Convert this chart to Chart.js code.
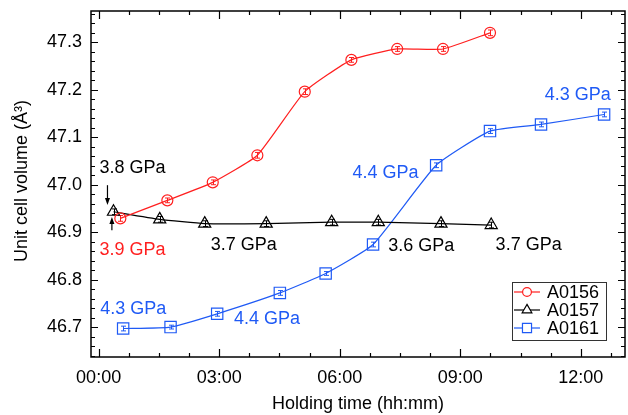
<!DOCTYPE html>
<html>
<head>
<meta charset="utf-8">
<script src="https://cdn.jsdelivr.net/npm/chart.js@4.4.0/dist/chart.umd.min.js"></script>
<style>
  html, body { margin: 0; padding: 0; background: #fff; }
  #wrap { width: 628px; height: 415px; }
</style>
</head>
<body>
<div id="wrap"><canvas id="volChart" width="628" height="415"></canvas></div>
<script>
// holding time in hours, volume in Å^3, error = half height of error bar
const timeA0156 = [0.54, 1.71, 2.84, 3.95, 5.13, 6.29, 7.43, 8.57, 9.74];
const volA0156  = [46.929, 46.967, 47.005, 47.062, 47.196, 47.263, 47.286, 47.286, 47.320];
const errA0156  = [0.006, 0.005, 0.005, 0.006, 0.006, 0.005, 0.005, 0.005, 0.006];

const timeA0157 = [0.37, 1.52, 2.64, 4.17, 5.80, 6.96, 8.52, 9.77];
const volA0157  = [46.943, 46.927, 46.918, 46.918, 46.921, 46.921, 46.918, 46.915];
const errA0157  = [0.006, 0.006, 0.006, 0.006, 0.006, 0.006, 0.006, 0.006];

const timeA0161 = [0.61, 1.79, 2.95, 4.51, 5.65, 6.83, 8.40, 9.74, 11.01, 12.58];
const volA0161  = [46.697, 46.700, 46.728, 46.772, 46.813, 46.874, 47.041, 47.113, 47.127, 47.148];
const errA0161  = [0.005, 0.004, 0.005, 0.005, 0.004, 0.005, 0.005, 0.005, 0.005, 0.005];

const xTickHours = [0, 3, 6, 9, 12];
const yTickValues = [46.7, 46.8, 46.9, 47.0, 47.1, 47.2, 47.3];

// pressure labels: [text, hours, volume, color key]
const pressureLabels = [
  ['3.8 GPa', 0.02, 47.035, 'k'],
  ['3.9 GPa', 0.02, 46.862, 'r'],
  ['3.7 GPa', 2.79, 46.872, 'k'],
  ['3.6 GPa', 7.21, 46.871, 'k'],
  ['3.7 GPa', 9.88, 46.872, 'k'],
  ['4.3 GPa', 0.04, 46.739, 'b'],
  ['4.4 GPa', 3.37, 46.716, 'b'],
  ['4.4 GPa', 6.32, 47.025, 'b'],
  ['4.3 GPa', 11.10, 47.190, 'b']
];
// arrows: [hours, from volume, to volume]
const arrows = [
  [0.22, 46.999, 46.957],
  [0.33, 46.904, 46.932]
];

const colors = { r: '#ff1f1f', k: '#000000', b: '#1f5af5' };
const FONT = '"Liberation Sans", Arial, Helvetica, sans-serif';

function toPoints(ts, vs) {
  return ts.map((t, i) => ({ x: t, y: vs[i] }));
}

function hhmm(h) {
  const hh = Math.floor(h + 1e-6);
  return String(hh).padStart(2, '0') + ':00';
}

const seriesErrors = [errA0156, errA0157, errA0161];

const decorPlugin = {
  id: 'decor',
  beforeDatasetsDraw(chart) {
    const ctx = chart.ctx;
    const xs = chart.scales.x, ys = chart.scales.y;
    ctx.save();
    chart.data.datasets.forEach((ds, i) => {
      ctx.strokeStyle = ds.borderColor;
      ctx.lineWidth = 1;
      ds.data.forEach((p, j) => {
        const e = seriesErrors[i][j];
        const px = Math.round(xs.getPixelForValue(p.x)) + 0.5;
        const y1 = ys.getPixelForValue(p.y + e);
        const y2 = ys.getPixelForValue(p.y - e);
        ctx.beginPath();
        ctx.moveTo(px, y1); ctx.lineTo(px, y2);
        ctx.moveTo(px - 2.5, y1); ctx.lineTo(px + 2.5, y1);
        ctx.moveTo(px - 2.5, y2); ctx.lineTo(px + 2.5, y2);
        ctx.stroke();
      });
    });
    ctx.restore();
  },
  afterDraw(chart) {
    const ctx = chart.ctx;
    const a = chart.chartArea;
    const xs = chart.scales.x, ys = chart.scales.y;
    ctx.save();

    // frame
    ctx.strokeStyle = '#000';
    ctx.lineWidth = 1.5;
    ctx.strokeRect(a.left, a.top, a.right - a.left, a.bottom - a.top);

    // inward ticks on all four sides
    ctx.lineWidth = 1.2;
    ctx.beginPath();
    for (let k = 0; k * 0.75 <= xs.max; k++) {
      const px = Math.round(xs.getPixelForValue(k * 0.75)) + 0.5;
      const len = k % 4 === 0 ? 8 : 4;
      ctx.moveTo(px, a.bottom); ctx.lineTo(px, a.bottom - len);
      ctx.moveTo(px, a.top); ctx.lineTo(px, a.top + len);
    }
    for (let k = Math.ceil(ys.min / 0.02); k * 0.02 <= ys.max; k++) {
      const py = Math.round(ys.getPixelForValue(k * 0.02)) + 0.5;
      const len = k % 5 === 0 ? 7 : 4;
      ctx.moveTo(a.left, py); ctx.lineTo(a.left + len, py);
      ctx.moveTo(a.right, py); ctx.lineTo(a.right - len, py);
    }
    ctx.stroke();

    // pressure labels
    ctx.font = '18px ' + FONT;
    ctx.textBaseline = 'middle';
    ctx.textAlign = 'left';
    pressureLabels.forEach(([txt, t, v, c]) => {
      ctx.fillStyle = colors[c];
      ctx.fillText(txt, xs.getPixelForValue(t), ys.getPixelForValue(v));
    });

    // arrows
    ctx.strokeStyle = '#000';
    ctx.fillStyle = '#000';
    ctx.lineWidth = 1.2;
    arrows.forEach(([t, v0, v1]) => {
      const px = xs.getPixelForValue(t);
      const y0 = ys.getPixelForValue(v0), y1 = ys.getPixelForValue(v1);
      const dir = Math.sign(y1 - y0);
      ctx.beginPath();
      ctx.moveTo(px, y0); ctx.lineTo(px, y1 - dir * 5);
      ctx.stroke();
      ctx.beginPath();
      ctx.moveTo(px, y1);
      ctx.lineTo(px - 2.5, y1 - dir * 7);
      ctx.lineTo(px + 2.5, y1 - dir * 7);
      ctx.closePath();
      ctx.fill();
    });

    // axis titles
    ctx.fillStyle = '#000';
    ctx.font = '18px ' + FONT;
    ctx.textAlign = 'center';
    ctx.fillText('Holding time (hh:mm)', 358, 404);
    ctx.save();
    ctx.translate(22, 181);
    ctx.rotate(-Math.PI / 2);
    ctx.fillText('Unit cell volume (Å³)', 0, 0);
    ctx.restore();

    // legend box
    const lx = a.right - 113, ly = a.bottom - 75;
    ctx.strokeStyle = '#333';
    ctx.lineWidth = 1;
    ctx.strokeRect(lx + 0.5, ly + 0.5, 94, 58);
    ctx.font = '18px ' + FONT;
    ctx.textAlign = 'left';
    chart.data.datasets.forEach((ds, i) => {
      const cy = ly + 10 + i * 18;
      ctx.strokeStyle = ds.borderColor;
      ctx.lineWidth = 1.2;
      ctx.beginPath();
      ctx.moveTo(lx + 2, cy); ctx.lineTo(lx + 28, cy);
      ctx.stroke();
      ctx.fillStyle = '#fff';
      Chart.helpers.drawPoint(ctx, {
        pointStyle: ds.pointStyle, radius: ds.pointRadius * 0.8, borderWidth: 1.2
      }, lx + 15, cy);
      ctx.fillStyle = '#000';
      ctx.fillText(ds.label, lx + 35, cy + 1);
    });

    ctx.restore();
  }
};

function noPad(s) {
  s.paddingTop = 0; s.paddingBottom = 0;
  s.paddingLeft = 0; s.paddingRight = 0;
}

const ctx = document.getElementById('volChart').getContext('2d');

const volChart = new Chart(ctx, {
  type: 'scatter',
  data: {
    datasets: [
      {
        label: 'A0156',
        data: toPoints(timeA0156, volA0156),
        borderColor: colors.r,
        backgroundColor: 'rgba(255,255,255,0)',
        pointStyle: 'circle',
        pointRadius: 5.5,
        pointBorderWidth: 1.2,
        borderWidth: 1.2,
        showLine: true
      },
      {
        label: 'A0157',
        data: toPoints(timeA0157, volA0157),
        borderColor: colors.k,
        backgroundColor: 'rgba(255,255,255,0)',
        pointStyle: 'triangle',
        pointRadius: 7,
        pointBorderWidth: 1.2,
        borderWidth: 1.2,
        showLine: true
      },
      {
        label: 'A0161',
        data: toPoints(timeA0161, volA0161),
        borderColor: colors.b,
        backgroundColor: 'rgba(255,255,255,0)',
        pointStyle: 'rect',
        pointRadius: 8,
        pointBorderWidth: 1.2,
        borderWidth: 1.2,
        showLine: true
      }
    ]
  },
  options: {
    responsive: false,
    animation: false,
    elements: { line: { tension: 0.15 } },
    layout: { autoPadding: false, padding: { left: 0, right: 3, top: 11, bottom: 0 } },
    scales: {
      x: {
        type: 'linear',
        min: -0.19,
        max: 13.1,
        afterFit: s => { s.height = 58; noPad(s); },
        afterBuildTicks: s => { s.ticks = xTickHours.map(v => ({ value: v })); },
        grid: { display: false, drawTicks: false },
        border: { display: false },
        ticks: {
          padding: 10,
          color: '#000',
          font: { family: FONT, size: 18 },
          callback: v => hhmm(v)
        }
      },
      y: {
        type: 'linear',
        min: 46.637,
        max: 47.366,
        afterFit: s => { s.width = 91; noPad(s); },
        afterBuildTicks: s => { s.ticks = yTickValues.map(v => ({ value: v })); },
        grid: { display: false, drawTicks: false },
        border: { display: false },
        ticks: {
          padding: 9,
          color: '#000',
          font: { family: FONT, size: 18 },
          callback: v => v.toFixed(1)
        }
      }
    },
    plugins: {
      legend: { display: false },
      tooltip: { enabled: false }
    }
  },
  plugins: [decorPlugin]
});
</script>
</body>
</html>
